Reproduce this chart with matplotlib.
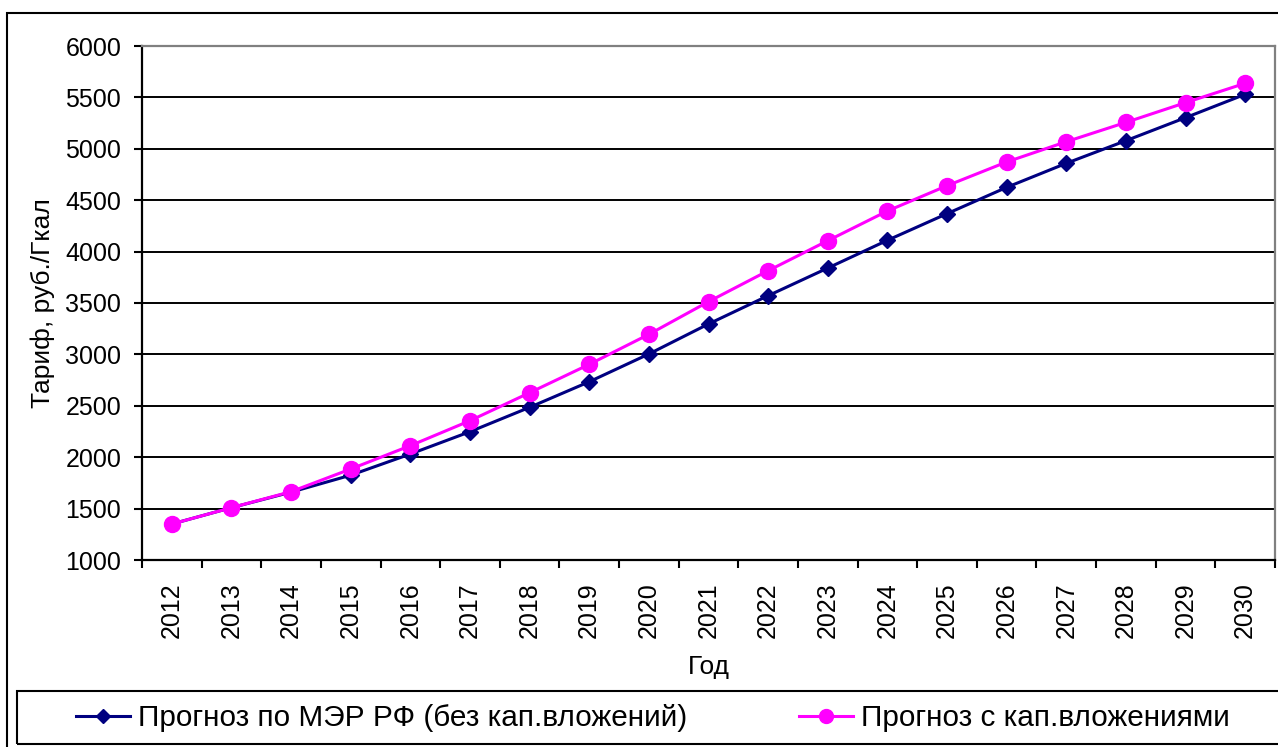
import numpy as np
import matplotlib
matplotlib.use("Agg")
from matplotlib import pyplot as plt
from matplotlib.patches import Rectangle
from matplotlib.lines import Line2D

plt.rcParams['font.family'] = ['Liberation Sans', 'DejaVu Sans']

years = [str(y) for y in range(2012, 2031)]
mer_forecast = [1350, 1509, 1660, 1825, 2031, 2248, 2485, 2734, 3004, 3296,
                3571, 3840, 4110, 4369, 4625, 4859, 5079, 5303, 5530]
capex_forecast = [1350, 1509, 1665, 1885, 2112, 2355, 2627, 2903, 3195, 3513,
                  3814, 4106, 4395, 4641, 4872, 5069, 5257, 5449, 5637]
y_ticks = list(range(1000, 6001, 500))

W, H = 1278, 747
fig = plt.figure(figsize=(W / 100, H / 100), dpi=100)
ax = fig.add_axes([142 / W, 1 - 560 / H, (1275 - 142) / W, (560 - 46) / H])

x = np.arange(len(years))
ax.plot(x, mer_forecast, color='#000080', lw=2.2, marker='D', ms=8,
        label='Прогноз по МЭР РФ (без кап.вложений)', zorder=3)
ax.plot(x, capex_forecast, color='#FF00FF', lw=2.2, marker='o', ms=11.5,
        label='Прогноз с кап.вложениями', zorder=4)

ax.set_xlim(-0.5, len(years) - 0.5)
ax.set_ylim(1000, 6000)
ax.set_yticks(y_ticks)
ax.set_yticklabels([str(v) for v in y_ticks])
for v in y_ticks[1:-1]:
    ax.axhline(v, color='black', lw=1.4, zorder=1)

ax.set_xticks(x)
ax.set_xticklabels(years, rotation=90)
ax.set_xticks(np.arange(len(years) + 1) - 0.5, minor=True)
ax.tick_params(axis='x', which='major', length=0, pad=16, labelsize=18)
ax.tick_params(axis='x', which='minor', length=6, width=1.5, direction='out')
ax.tick_params(axis='y', length=6, width=1.5, pad=9, labelsize=18)

for side in ('left', 'bottom'):
    ax.spines[side].set_color('black')
    ax.spines[side].set_linewidth(1.6)
for side in ('top', 'right'):
    ax.spines[side].set_color('#808080')
    ax.spines[side].set_linewidth(1.6)

ax.set_xlabel('Год', fontsize=19)
ax.xaxis.set_label_coords(0.5, -0.185)
ax.set_ylabel('Тариф, руб./Гкал', fontsize=19)
ax.yaxis.set_label_coords(-0.077, 0.5)

# outer chart border and legend box
fig.add_artist(Rectangle((7 / W, -0.1), 1.2, 1 - 13 / H + 0.1, transform=fig.transFigure,
                         fill=False, ec='black', lw=1.5))
fig.add_artist(Rectangle((17 / W, 1 - 744 / H), 1.2, 53 / H, transform=fig.transFigure,
                         fill=False, ec='black', lw=1.5))

handles = [Line2D([], [], color='#000080', lw=2.2, marker='D', ms=7),
           Line2D([], [], color='#FF00FF', lw=2.2, marker='o', ms=10)]
fig.legend(handles, [ax.lines[0].get_label(), ax.lines[1].get_label()],
           loc='center left', bbox_to_anchor=(76 / W, 1 - 718 / H), ncol=2,
           frameon=False, fontsize=21.4, borderpad=0, borderaxespad=0,
           handlelength=1.82, handletextpad=0.27, columnspacing=3.75)

fig.savefig('out.png', dpi=100)
